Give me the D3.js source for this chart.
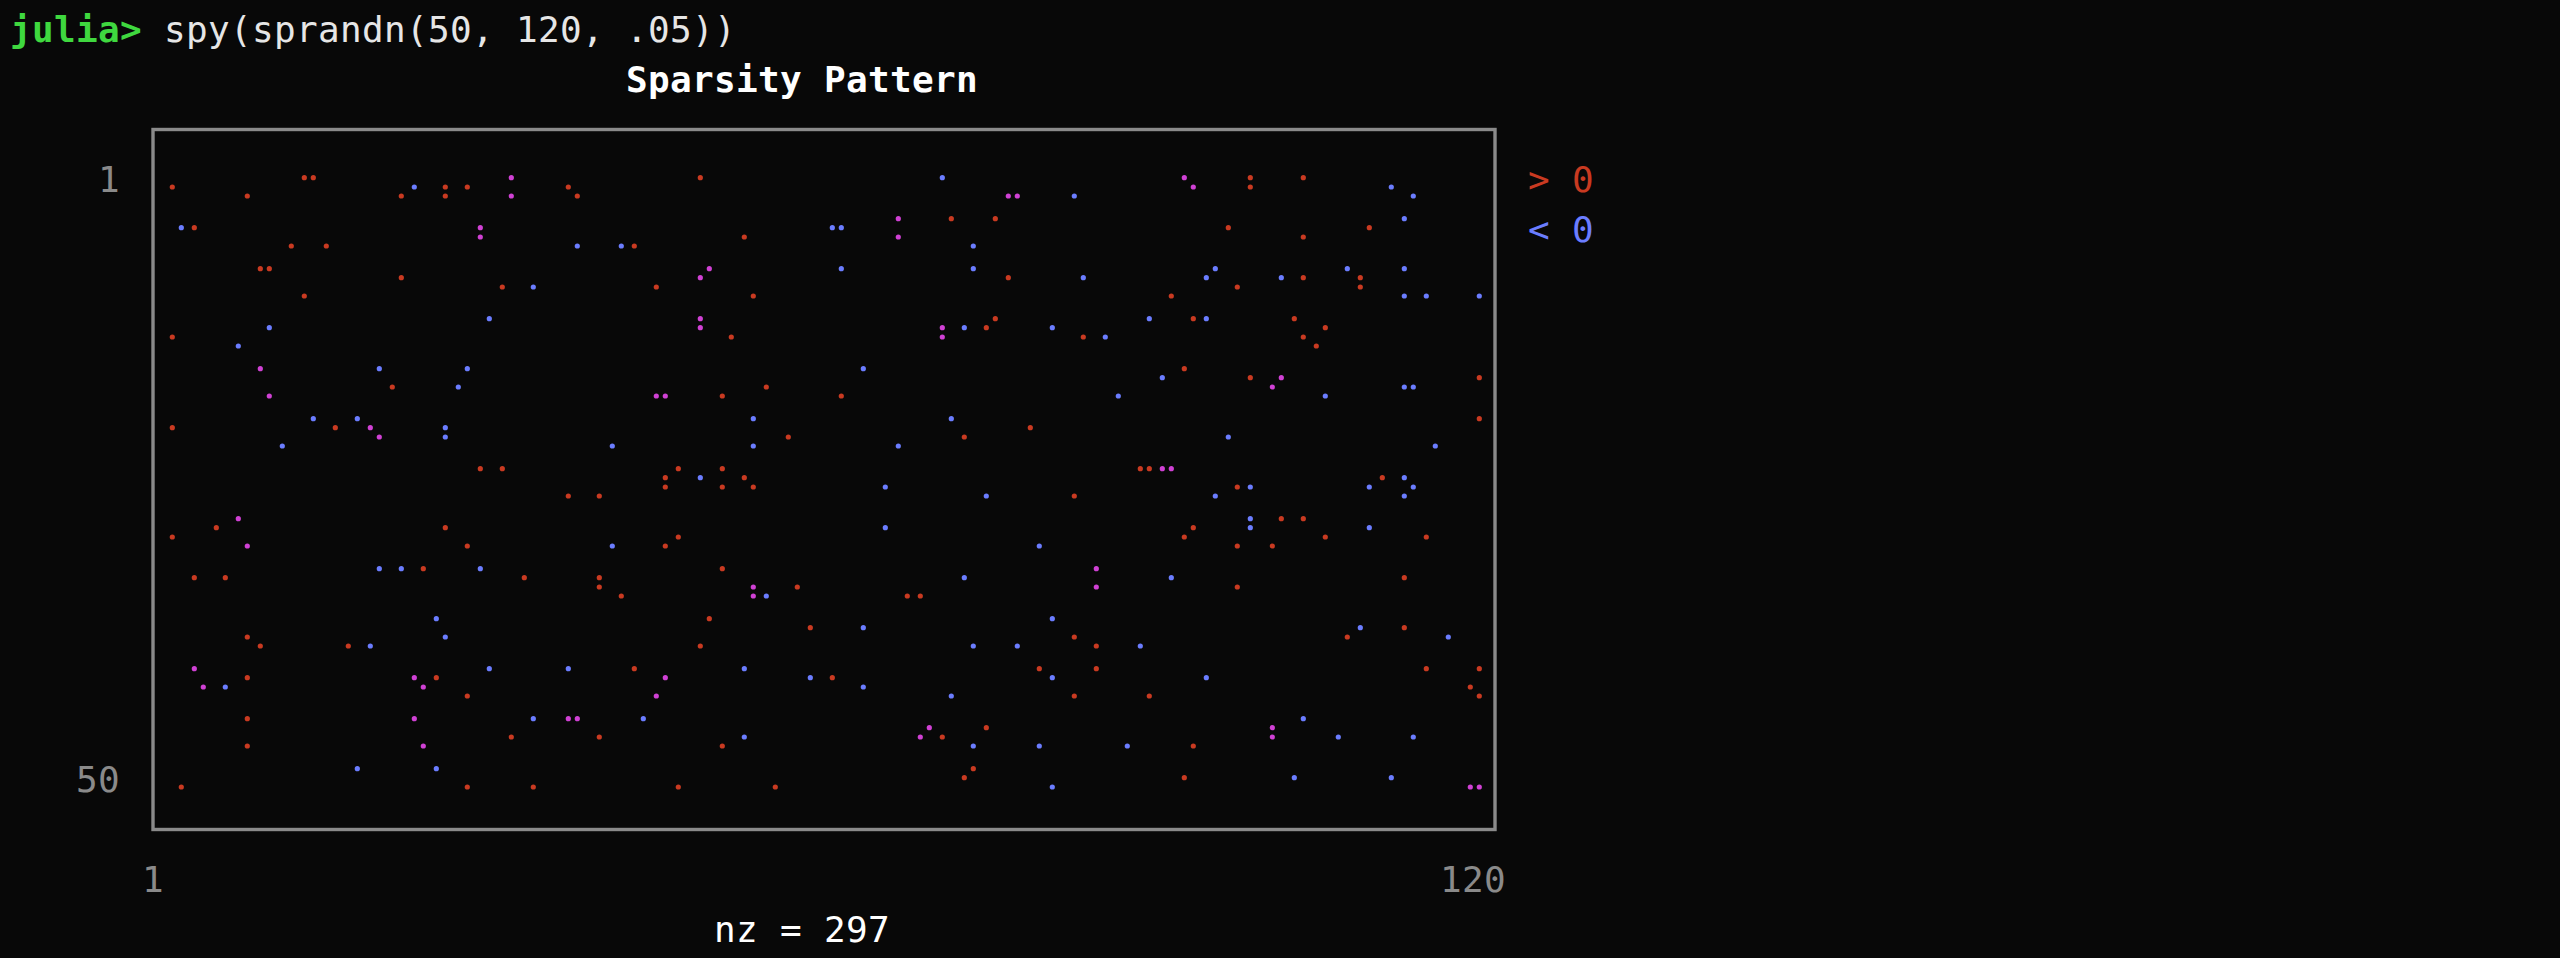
<!DOCTYPE html>
<html><head><meta charset="utf-8">
<script src="https://cdn.jsdelivr.net/npm/d3@7/dist/d3.min.js"></script>
<style>html,body{margin:0;padding:0;background:#080808;overflow:hidden}</style>
</head><body>
<svg id="chart" width="2560" height="958"></svg>
<script>
// ---- data: nonzero columns per matrix row (row 1..50), split by sign ----
const nRows = 50, nCols = 120;
const posCols = [
  [13,14,32,49,93,99,104],[1,26,28,37,99],[8,22,26,38,77],[67,72,76],[3,29,97,110],
  [53,104],[12,15,43],[9,10,50],[22,77,104,109],[31,45,98,109],
  [13,54,92],[49,76,94,103],[71,75,106],[1,52,84,104],[105],
  [9,93],[99,102,120],[21,55],[45,51,62],[120],
  [1,16,19,79],[57,73],[],[29,31,47,51,89,90,91],[46,53,111],
  [46,51,54,98],[37,40,83],[7,102,104],[5,26,94],[1,47,93,106,115],
  [28,46,98,101],[24,51,85],[3,6,33,40,113],[40,54,58,98],[42,68,69],
  [50],[59,113],[8,83,108],[9,17,49,85],[3,43,80,85,115,120],
  [8,23,25,46,61],[119],[28,83,90,120],[8,23,37],[70,75,101],
  [32,40,71],[8,51,94],[74],[73,93],[2,28,34,47,56,119]
];
const negCols = [
  [71],[23,94,112],[32,78,83,114],[113],[2,61,62],
  [29,67],[38,42,74],[62,74,96,108,113],[49,84,95,102],[34],
  [113,115,120],[30,90,95],[10,49,73,81],[71,86],[7],
  [20,28,64],[91],[27,101,113,114],[10,46,87,106],[14,18,54,72],
  [26],[20,26,97],[11,41,54,67,116],[92],[49,113],
  [66,99,110,114],[75,96,113],[99],[66,99,110],[],
  [8,41,80],[20,22,29],[73,92],[85],[54,55],
  [25,81],[64,109],[26,117],[19,74,78,89],[30,37,53],
  [59,81,95],[4,6,24,64],[45,72],[34,38,44,104],[],
  [53,69,101,107,114],[24,74,80,88],[18,25],[103,112],[81,120]
];
const xTickLabels = ["1", "120"];
const yTickLabels = ["1", "50"];
const legendSymbols = [">", "<"];
const legendValues = ["0", "0"];
const promptText = "julia>";
const commandText = "spy(sprandn(50, 120, .05))";
const titleText = "Sparsity Pattern";

(function () {
// ---- styles ----
const BG = "#080808";
const RED = "#c93a21", BLUE = "#6b7dff", MIX = "#d041d4";
const GRAY = "#8a8a8a", GREEN = "#3fd83f", WHITE = "#ffffff", LIGHT = "#e6e6e6";
const FONT = "'DejaVu Sans Mono', 'Liberation Mono', monospace";
const FS = 36, CW = 22, LH = 50;

const svg = d3.select("#chart");
svg.append("rect").attr("width", 2560).attr("height", 958).attr("fill", BG);

// terminal grid scales: character column -> left x, text line -> center y
const colX = d3.scaleLinear().domain([0, 1]).range([10, 10 + CW]);
const lineY = d3.scaleLinear().domain([0, 1]).range([29.5, 29.5 + LH]);

const CANVAS_COL = 7, CANVAS_LINE = 3, CANVAS_CHARS = 60, CANVAS_LINES = 13;
// braille sub-dot offsets within a character cell
const subDX = [8.3, 17.3];
const subDY = [-10.8, -1.8, 7.5, 16.5];

function txt(col, line, s, color, weight) {
  svg.append("text")
    .attr("x", colX(col))
    .attr("y", lineY(line) + 12.9)
    .attr("font-family", FONT)
    .attr("font-size", FS)
    .attr("font-weight", weight || "normal")
    .attr("letter-spacing", (CW - 0.6021 * FS).toFixed(3))
    .attr("fill", color)
    .attr("xml:space", "preserve")
    .style("white-space", "pre")
    .text(s);
}

// ---- entries ----
const entries = [];
for (let r = 0; r < nRows; r++) {
  posCols[r].forEach(c => entries.push({row: r + 1, col: c, sign: 1}));
  negCols[r].forEach(c => entries.push({row: r + 1, col: c, sign: -1}));
}
// braille cell colour: blend when a cell holds both signs
const cellKey = d => Math.floor(d.row / 4) + "_" + Math.floor((d.col - 1) / 2);
const cellSigns = d3.rollup(entries, v => new Set(v.map(d => d.sign)), cellKey);
function dotColor(d) {
  const s = cellSigns.get(cellKey(d));
  if (s.size > 1) return MIX;
  return s.has(1) ? RED : BLUE;
}
const dotX = d => colX(CANVAS_COL + Math.floor((d.col - 1) / 2)) + subDX[(d.col - 1) % 2];
const dotY = d => lineY(CANVAS_LINE + Math.floor(d.row / 4)) + subDY[d.row % 4];

// ---- text: prompt, title ----
txt(0, 0, promptText, GREEN, "bold");
txt(promptText.length + 1, 0, commandText, LIGHT);
txt(28, 1, titleText, WHITE, "bold");

// ---- frame ----
const fx0 = colX(CANVAS_COL - 1) + CW / 2, fx1 = colX(CANVAS_COL + CANVAS_CHARS) + CW / 2;
const fy0 = lineY(CANVAS_LINE - 1), fy1 = lineY(CANVAS_LINE + CANVAS_LINES);
svg.append("rect")
  .attr("x", fx0).attr("y", fy0)
  .attr("width", fx1 - fx0).attr("height", fy1 - fy0)
  .attr("fill", "none").attr("stroke", GRAY).attr("stroke-width", 3.4);

// ---- dots ----
svg.append("g").selectAll("circle").data(entries).join("circle")
  .attr("cx", dotX).attr("cy", dotY).attr("r", 2.6)
  .attr("fill", dotColor);

// ---- y tick labels (right aligned before frame) ----
txt(CANVAS_COL - 2 - yTickLabels[0].length, CANVAS_LINE, yTickLabels[0], GRAY);
txt(CANVAS_COL - 2 - yTickLabels[1].length, CANVAS_LINE + CANVAS_LINES - 1, yTickLabels[1], GRAY);
// ---- x tick labels ----
txt(CANVAS_COL - 1, CANVAS_LINE + CANVAS_LINES + 1, xTickLabels[0], GRAY);
txt(CANVAS_COL + CANVAS_CHARS + 1 - xTickLabels[1].length, CANVAS_LINE + CANVAS_LINES + 1, xTickLabels[1], GRAY);
// ---- legend ----
const legCol = CANVAS_COL + CANVAS_CHARS + 2;
[RED, BLUE].forEach((c, i) => txt(legCol, CANVAS_LINE + i, legendSymbols[i] + " " + legendValues[i], c));
// ---- nz label ----
txt(32, CANVAS_LINE + CANVAS_LINES + 2, "nz = " + entries.length, WHITE);
})();
</script>
</body></html>
